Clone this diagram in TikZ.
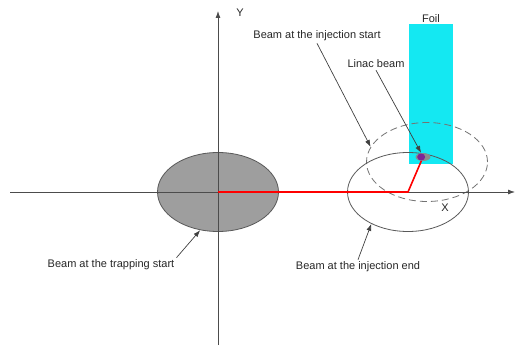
\documentclass[tikz,border=0pt]{standalone}
\usepackage{fontspec}
\setmainfont{Liberation Sans}
\usetikzlibrary{shapes.geometric, arrows.meta, positioning}
\definecolor{spotpurple}{RGB}{125,35,150}
\definecolor{foilcyan}{RGB}{20,232,242}

\begin{document}
\begin{tikzpicture}[x=1pt, y=-1pt, >={Latex[length=7pt, width=5pt]}, font=\fontsize{11}{13}\selectfont]
    % Styles
    \tikzstyle{beam} = [ellipse, draw=black!65, line width=0.8pt, minimum width=121pt, minimum height=79pt, inner sep=0pt]
    \tikzstyle{tag} = [inner sep=2pt, text=black!85]
    \tikzstyle{pointer} = [draw=black!75, ->, line width=0.7pt]
    \tikzstyle{axis} = [draw=black!70, ->, line width=0.8pt]

    \useasboundingbox (0,0) rectangle (516,345);

    % Foil
    \node [fill=foilcyan, minimum width=44pt, minimum height=140pt, inner sep=0pt] (foil) at (431,94) {};
    \node [tag, above=-1pt of foil] (foiltxt) {Foil};

    % Beams
    \node [beam, fill=black!38] (trap) at (218,192) {};
    \node [beam, draw=black!55, dash pattern=on 7pt off 4pt] (inj) at (427,162) {};
    \node [beam] (injend) at (408,192) {};

    % Axes
    \coordinate (xl) at (10,192);
    \coordinate (xr) at (515,192);
    \coordinate (yb) at (218,345);
    \coordinate (yt) at (218,11);
    \draw [axis] (xl) -- (xr);
    \draw [axis] (yb) -- (yt);
    \node [tag] (xtxt) at (445,208) {X};
    \node [tag] (ytxt) at (240,13) {Y};

    % Orbit (red)
    \coordinate (origin) at (218,192);
    \coordinate (kink) at (408,192);
    \coordinate (spotc) at (423,157);
    \draw [red, line width=1.6pt] (origin) -- (kink) -- (spotc);

    % Linac beam spot
    \node [ellipse, fill=black!45, minimum width=15pt, minimum height=8pt, inner sep=0pt] (linac) at (spotc) {};
    \node [ellipse, fill=spotpurple, minimum width=8pt, minimum height=7pt, inner sep=0pt, right=-6pt of spotc] (spot) {};

    % Labels
    \node [tag] (startl) at (317,36) {Beam at the injection start};
    \node [tag] (linacl) at (376,64) {Linac beam};
    \node [tag] (trapl) at (111,265) {Beam at the trapping start};
    \node [tag] (endl) at (358,267) {Beam at the injection end};

    % Pointers
    \draw [pointer] (startl.south) -- (inj.165);
    \draw [pointer] (linacl.south) -- (linac.115);
    \draw [pointer] (trapl.north east) -- (trap.245);
    \draw [pointer] (endl.north) -- (injend.221);
\end{tikzpicture}
\end{document}
